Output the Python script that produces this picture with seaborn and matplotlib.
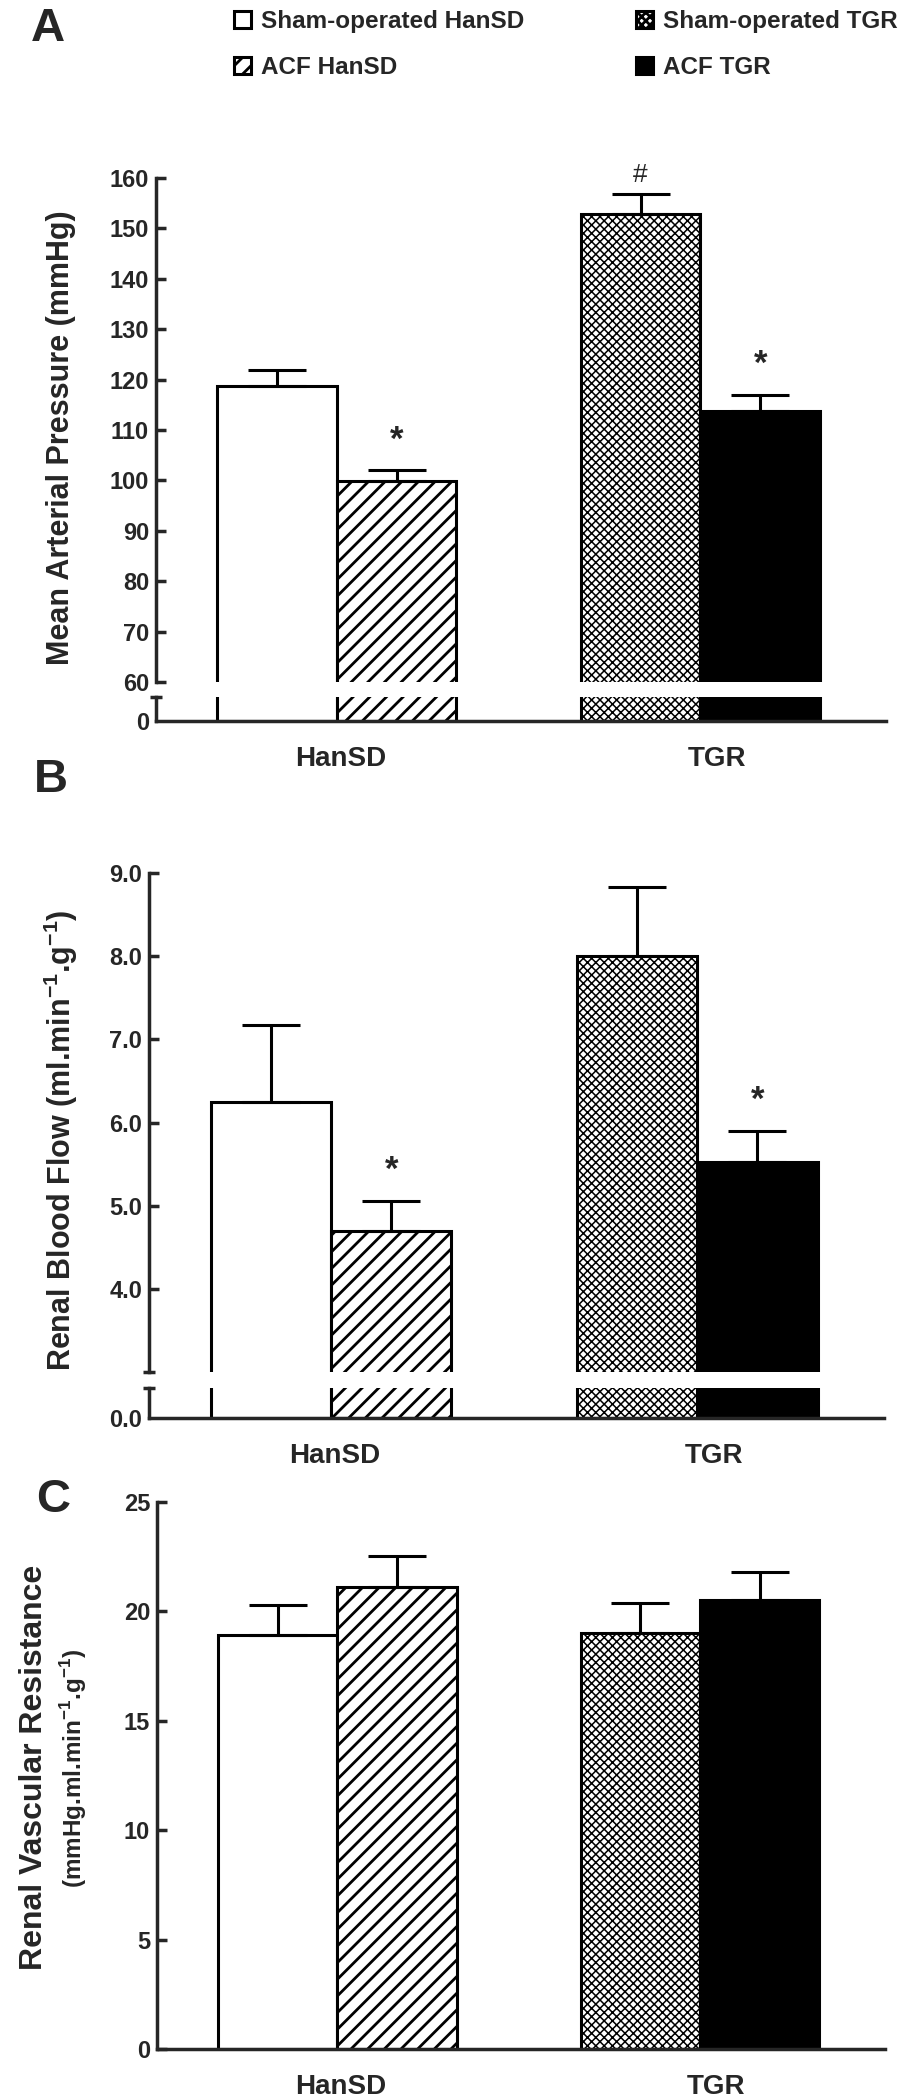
import numpy as np
import pandas as pd
import matplotlib
matplotlib.use("Agg")
import matplotlib.pyplot as plt
import seaborn as sns

# ---------------- data ----------------
groups = ["HanSD", "TGR"]
treatments = ["Sham-operated", "ACF"]
legend_labels = ["Sham-operated HanSD", "ACF HanSD", "Sham-operated TGR", "ACF TGR"]

# order of values: HanSD Sham, HanSD ACF, TGR Sham, TGR ACF
map_mean = [118.7, 99.8, 152.8, 113.8]
map_sem = [3.2, 2.2, 4.0, 3.1]
rbf_mean = [6.25, 4.70, 8.00, 5.53]
rbf_sem = [0.92, 0.36, 0.83, 0.37]
rvr_mean = [18.9, 21.1, 19.0, 20.5]
rvr_sem = [1.4, 1.45, 1.4, 1.3]

map_marks = ["", "*", "#", "*"]
rbf_marks = ["", "*", "", "*"]

map_ticks = [60, 70, 80, 90, 100, 110, 120, 130, 140, 150, 160]
rbf_ticks = [4.0, 5.0, 6.0, 7.0, 8.0, 9.0]
rvr_ticks = [0, 5, 10, 15, 20, 25]

# ---------------- style ----------------
sns.set_style("ticks")
plt.rcParams["font.family"] = ["Liberation Sans", "DejaVu Sans"]
plt.rcParams["mathtext.fontset"] = "custom"
plt.rcParams["mathtext.rm"] = "Liberation Sans"
plt.rcParams["mathtext.bf"] = "Liberation Sans:bold"
plt.rcParams["hatch.linewidth"] = 2.0
plt.rcParams["axes.linewidth"] = 2.5

W, H = 898, 2100
fig = plt.figure(figsize=(W / 100, H / 100), dpi=100)

TICK_FS = 17
XLAB_FS = 20
YLAB_FS = 22
LW = 2.2
XLIM = (-0.497, 1.51)
XLAB_POS = [0.01, 1.045]

STYLES = [
    dict(facecolor="white", hatch=None, hlw=None),
    dict(facecolor="white", hatch="//", hlw=2.0),
    dict(facecolor="white", hatch="xxxx", hlw=1.1),
    dict(facecolor="black", hatch=None, hlw=None),
]


def rect(x0, x1, ytop, ybot):
    return [x0 / W, 1 - ybot / H, (x1 - x0) / W, (ybot - ytop) / H]


def make_df(means):
    return pd.DataFrame({
        "group": [g for g in groups for t in treatments],
        "treatment": [t for g in groups for t in treatments],
        "value": means,
    })


def draw_bars(ax, means):
    df = make_df(means)
    sns.barplot(data=df, x="group", y="value", hue="treatment", order=groups,
                hue_order=treatments, width=0.658, gap=0, errorbar=None,
                legend=False, ax=ax, palette=["white", "white"], saturation=1,
                edgecolor="black", linewidth=LW)
    bars = [None] * 4
    for ti, cont in enumerate(ax.containers):
        for gi, p in enumerate(cont.patches):
            bars[gi * 2 + ti] = p
    for i, p in enumerate(bars):
        st = STYLES[i]
        p.set_facecolor(st["facecolor"])
        p.set_edgecolor("black")
        p.set_linewidth(LW)
        if st["hatch"]:
            p.set_hatch(st["hatch"])
            if hasattr(p, "set_hatch_linewidth"):
                p.set_hatch_linewidth(st["hlw"])
    ax.set_xlim(*XLIM)
    ax.set_xlabel("")
    ax.set_ylabel("")
    sns.despine(ax=ax)
    return bars


def add_err(ax, bars, means, sems, marks=None):
    xs = [p.get_x() + p.get_width() / 2 for p in bars]
    ax.errorbar(xs, means, yerr=[np.zeros(len(sems)), sems], fmt="none",
                ecolor="black", elinewidth=LW, capsize=21, capthick=LW, zorder=1)
    if marks:
        for x, m, s, t in zip(xs, means, sems, marks):
            if not t:
                continue
            if t == "*":
                ax.annotate(t, (x, m + s), xytext=(0, 10), textcoords="offset points",
                            ha="center", va="bottom", fontsize=25, fontweight="bold")
            else:
                ax.annotate(t, (x, m + s), xytext=(0, 5), textcoords="offset points",
                            ha="center", va="bottom", fontsize=19)


def style_y(ax, ticks, fmt):
    ax.set_yticks(ticks)
    ax.set_yticklabels([fmt.format(t) for t in ticks], fontsize=TICK_FS, fontweight="bold")
    ax.tick_params(axis="y", direction="in", length=7, width=2.5, pad=5)


def style_x(ax, show):
    if show:
        ax.set_xticks(XLAB_POS)
        ax.set_xticklabels(groups, fontsize=XLAB_FS, fontweight="bold")
        ax.tick_params(axis="x", length=0, pad=18)
    else:
        ax.spines["bottom"].set_visible(False)
        ax.tick_params(axis="x", length=0, labelbottom=False)


def broken_panel(x0, x1, ytop, ybrk, ylow_top, y0, means, sems, marks,
                 lim, ticks, fmt, zero_label):
    axu = fig.add_axes(rect(x0, x1, ytop, ybrk))
    bars_u = draw_bars(axu, means)
    axu.set_ylim(*lim)
    style_y(axu, ticks, fmt)
    style_x(axu, False)
    add_err(axu, bars_u, means, sems, marks)
    axu.set_yticks([lim[0]], minor=True)
    axu.tick_params(axis="y", which="minor", direction="inout", length=8, width=2.5)

    axl = fig.add_axes(rect(x0, x1, ylow_top, y0))
    draw_bars(axl, means)
    axl.set_ylim(0, 1)
    axl.set_yticks([0])
    axl.set_yticklabels([zero_label], fontsize=TICK_FS, fontweight="bold")
    axl.tick_params(axis="y", direction="in", length=0, width=2.5, pad=5)
    axl.set_yticks([1], minor=True)
    axl.tick_params(axis="y", which="minor", direction="inout", length=8, width=2.5)
    style_x(axl, True)
    return axu, bars_u


# ---------------- Panel A ----------------
axA, barsA = broken_panel(156, 886, 178, 682, 697, 721, map_mean, map_sem, map_marks,
                          (60, 160), map_ticks, "{:d}", "0")
# ---------------- Panel B ----------------
axB, _ = broken_panel(149, 884, 873, 1372, 1388, 1418, rbf_mean, rbf_sem, rbf_marks,
                      (3.0, 9.0), rbf_ticks, "{:.1f}", "0.0")
# ---------------- Panel C ----------------
axC = fig.add_axes(rect(157, 885, 1502, 2049))
barsC = draw_bars(axC, rvr_mean)
axC.set_ylim(0, 25)
style_y(axC, rvr_ticks, "{:d}")
style_x(axC, True)
add_err(axC, barsC, rvr_mean, rvr_sem)

# ---------------- labels ----------------
def ftext(x, y, s, **kw):
    fig.text(x / W, 1 - y / H, s, **kw)

ftext(61, 438, "Mean Arterial Pressure (mmHg)", rotation=90, ha="center", va="center",
      fontsize=YLAB_FS, fontweight="bold")
ftext(61, 1140, r"Renal Blood Flow (ml.min$^{\mathbf{-1}}$.g$^{\mathbf{-1}}$)", rotation=90,
      ha="center", va="center", fontsize=YLAB_FS, fontweight="bold")
ftext(34, 1767, "Renal Vascular Resistance", rotation=90, ha="center", va="center",
      fontsize=23, fontweight="bold")
ftext(74, 1768, r"(mmHg.ml.min$^{\mathbf{-1}}$.g$^{\mathbf{-1}}$)", rotation=90,
      ha="center", va="center", fontsize=17.5, fontweight="bold")

for letter, (lx, ly) in {"A": (31, 29), "B": (34, 780), "C": (36, 1500)}.items():
    ftext(lx, ly, letter, ha="left", va="center", fontsize=34, fontweight="bold")

# ---------------- legend ----------------
leg_kw = dict(loc="upper left", frameon=False, prop=dict(weight="bold", size=17.5),
              handlelength=0.7, handleheight=0.7, handletextpad=0.4,
              labelspacing=0.95, borderaxespad=0, borderpad=0)
leg1 = fig.legend(handles=[barsA[0], barsA[1]], labels=legend_labels[:2],
                  bbox_to_anchor=(234 / W, 1 - 10 / H), **leg_kw)
leg2 = fig.legend(handles=[barsA[2], barsA[3]], labels=legend_labels[2:],
                  bbox_to_anchor=(636 / W, 1 - 10 / H), **leg_kw)

fig.savefig("out.png", dpi=100)
